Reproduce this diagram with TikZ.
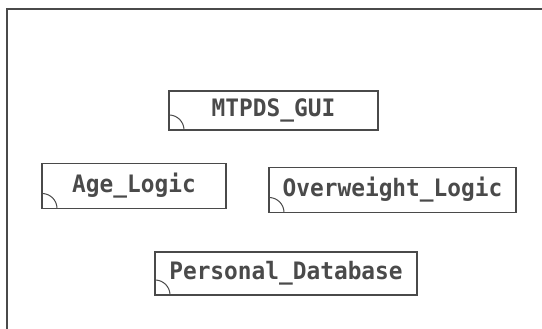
\documentclass[tikz,border=0pt]{standalone}
\usepackage{fontspec}
\newfontfamily\pkgfont{DejaVu Sans Mono}[FakeStretch=0.95]
\usetikzlibrary{positioning}

\definecolor{inkgray}{HTML}{4A4A4A}

\begin{document}
\begin{tikzpicture}[
    x=1pt, y=1pt,
    pkgbox/.style args = {#1/#2}{
        rectangle,
        draw=inkgray,
        line width=1.3pt,
        minimum width=#1pt,
        minimum height=#2pt,
        inner sep=0pt,
        text=inkgray,
        font=\pkgfont\bfseries\fontsize{24}{28}\selectfont,
        path picture={
            \draw[inkgray, line width=1pt]
                ([yshift=15pt]path picture bounding box.south west)
                arc (90:0:15pt);
        },
    },
]
    \useasboundingbox (0,0) rectangle (542,329);
    \clip (0,0) rectangle (542,329);

    % outer frame, running off the right and bottom edges
    \draw[inkgray, line width=1.3pt] (7,-20) -- (7,320) -- (560,320);

    \node[pkgbox={209/39}] (gui) at (273.5,218.5) {MTPDS\_GUI};
    \node[pkgbox={184/45}] (age) at (134,143) {Age\_Logic};
    \node[pkgbox={247/45}] (overweight) at (392.5,139) {Overweight\_Logic};
    \node[pkgbox={262/43}] (database) at (286,55.5) {Personal\_Database};

\end{tikzpicture}
\end{document}
